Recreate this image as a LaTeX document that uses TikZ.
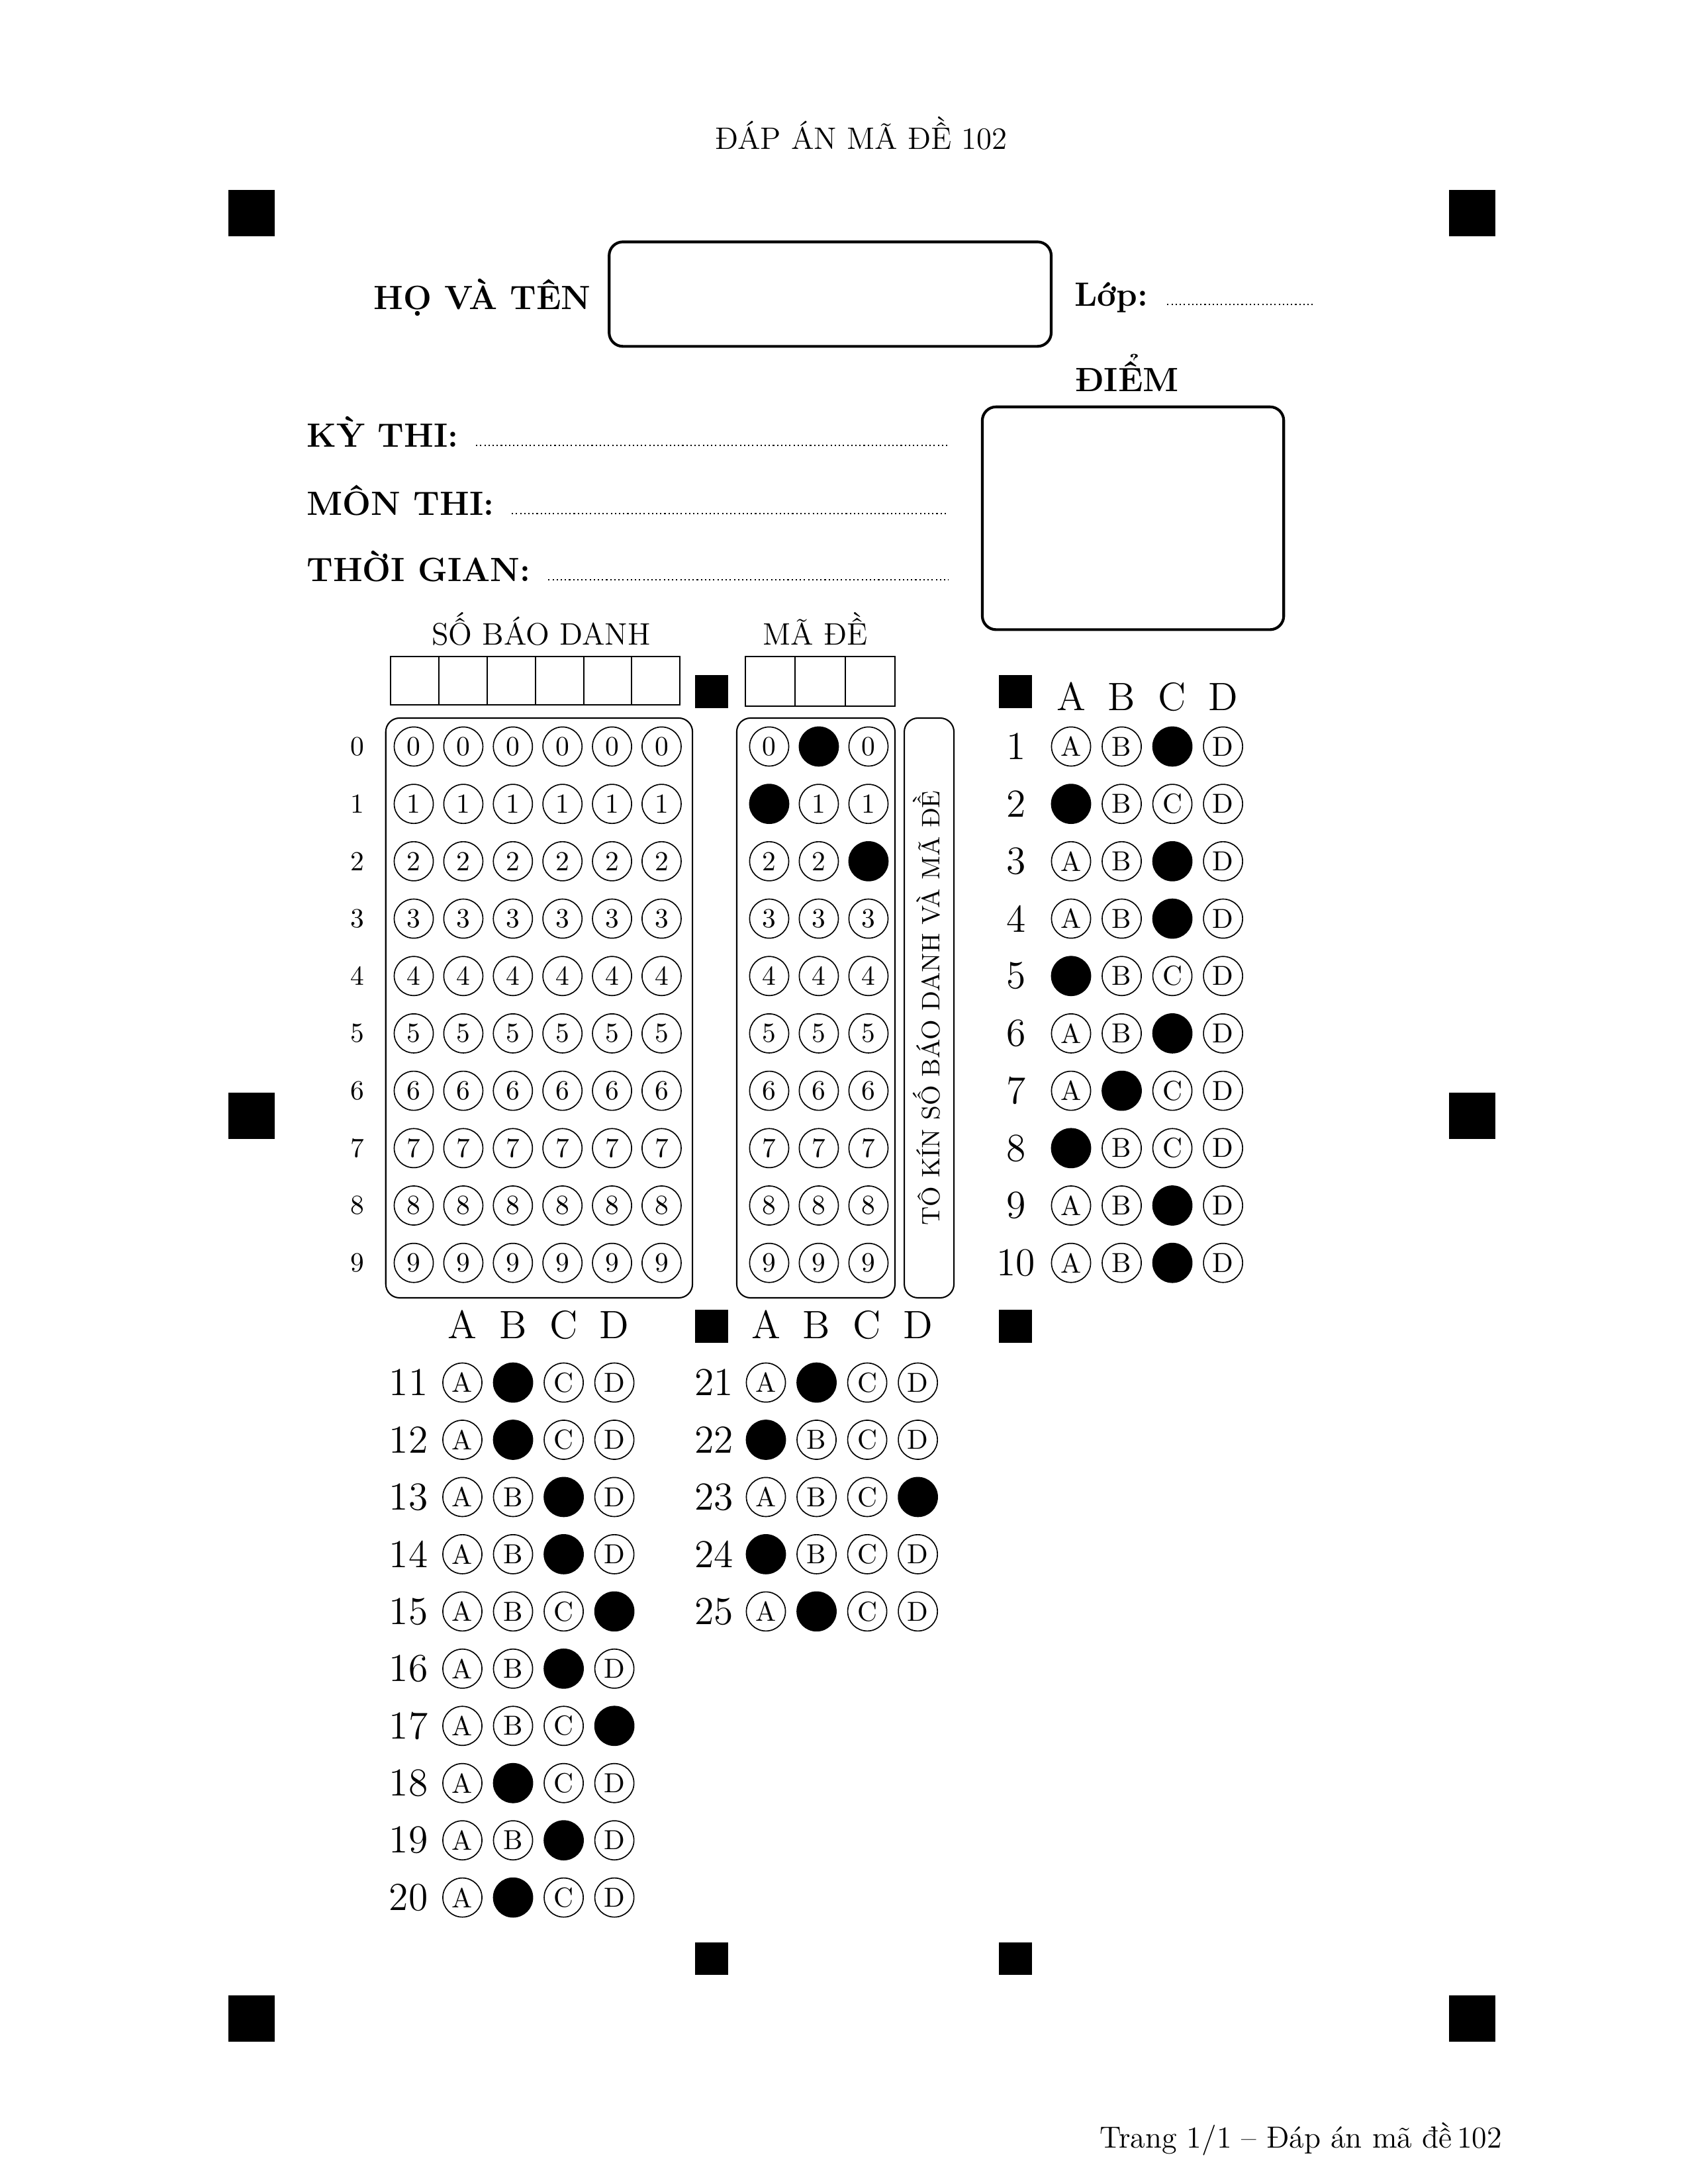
\documentclass[tikz,border=0pt]{standalone}
\usepackage{fontspec}
\usetikzlibrary{calc}
\usetikzlibrary{math}

\begin{document}
\begin{tikzpicture}
    \tikzmath {
        \pageW = 21.59;
        \pageH = 27.94;
        \rowY = -9.550;
        \rowYb = -17.687;
        \bubDX = 0.634;
        \bubDY = 0.734;
        \ansDX = 0.648;
        \ansDY = 0.732;
    }
    
    \tikzstyle{sq}=[fill=black, minimum size=0.6cm, inner sep=0pt]
    \tikzstyle{ssq}=[fill=black, minimum size=0.42cm, inner sep=0pt]
    \tikzstyle{bb}=[shape=circle, draw, line width=0.4pt, minimum size=0.5cm, inner sep=0pt]
    \tikzstyle{cell}=[draw, line width=0.5pt, minimum size=0.6165cm, inner sep=0pt]
    \tikzstyle{lb}=[inner sep=0pt, font=\fontsize{12.25}{14.5}\selectfont\bfseries]
    \tikzstyle{hd}=[inner sep=0pt, font=\Large]
    \tikzstyle{txt}=[inner sep=0pt, font=\fontsize{11.3}{13.5}\selectfont]
    
    \useasboundingbox (0,0) rectangle (\pageW,-\pageH);
    
    % corner marks
    \node[sq] (m_tl) at (3.217,-2.726) {};
    \node[sq] (m_tr) at (18.830,-2.726) {};
    \node[sq] (m_ml) at (3.217,-14.275) {};
    \node[sq] (m_mr) at (18.830,-14.275) {};
    \node[sq] (m_bl) at (3.217,-25.823) {};
    \node[sq] (m_br) at (18.830,-25.823) {};
    
    \node[ssq] (s_1l) at (9.102,-8.848) {};
    \node[ssq] (s_1r) at (12.988,-8.848) {};
    \node[ssq] (s_2l) at (9.102,-16.967) {};
    \node[ssq] (s_2r) at (12.988,-16.967) {};
    \node[ssq] (s_3l) at (9.102,-25.057) {};
    \node[ssq] (s_3r) at (12.988,-25.057) {};
    
    \node[txt, anchor=base] (title) at (11.017,-1.913) {ĐÁP ÁN MÃ ĐỀ 102};
    
    % name and class
    \node[lb, anchor=base west] (name_lb) at (4.771,-3.962) {HỌ VÀ TÊN};
    \coordinate (name_bl) at (7.791,-4.431);
    \coordinate (name_tr) at (13.445,-3.094);
    \draw[line width=1pt, rounded corners=5pt] (name_bl) rectangle (name_tr);
    
    \node[lb, anchor=base west] (lop_lb) at (13.739,-3.918) {Lớp:};
    \coordinate (lop_d1) at ($(lop_lb.base east) + (0.24,0.02)$);
    \coordinate (lop_end) at (16.826,0);
    \path let \p1=(lop_end),\p2=(lop_d1) in coordinate (lop_d2) at (\x1,\y2);
    \draw[densely dotted, line width=0.5pt] (lop_d1) -- (lop_d2);
    
    % score
    \node[lb, anchor=base] (diem_lb) at (14.414,-5.004) {ĐIỂM};
    \coordinate (diem_bl) at (12.564,-8.055);
    \coordinate (diem_tr) at (16.419,-5.205);
    \draw[line width=1pt, rounded corners=5pt] (diem_bl) rectangle (diem_tr);
    
    % exam info
    \coordinate (dots_end) at (12.133,0);
    \node[lb, anchor=base west] (ky_lb) at (3.917,-5.720) {KỲ THI:};
    \node[lb, anchor=base west] (mon_lb) at (3.917,-6.587) {MÔN THI:};
    \node[lb, anchor=base west] (tg_lb) at (3.917,-7.434) {THỜI GIAN:};
    
    \coordinate (ky_d1) at ($(ky_lb.base east) + (0.22,0.02)$);
    \path let \p1=(dots_end),\p2=(ky_d1) in coordinate (ky_d2) at (\x1,\y2);
    \draw[densely dotted, line width=0.5pt] (ky_d1) -- (ky_d2);
    
    \coordinate (mon_d1) at ($(mon_lb.base east) + (0.22,0.02)$);
    \path let \p1=(dots_end),\p2=(mon_d1) in coordinate (mon_d2) at (\x1,\y2);
    \draw[densely dotted, line width=0.5pt] (mon_d1) -- (mon_d2);
    
    \coordinate (tg_d1) at ($(tg_lb.base east) + (0.22,0.02)$);
    \path let \p1=(dots_end),\p2=(tg_d1) in coordinate (tg_d2) at (\x1,\y2);
    \draw[densely dotted, line width=0.5pt] (tg_d1) -- (tg_d2);
    
    % so bao danh / ma de
    \node[txt, anchor=base] (sbd_hd) at (6.921,-8.247) {SỐ BÁO DANH};
    \node[txt, anchor=base] (md_hd) at (10.430,-8.247) {MÃ ĐỀ};
    
    \foreach \j in {0,...,5}
        \node[cell] (sbd_c\j) at (5.306+0.6165*\j,-8.707) {};
    \foreach \j in {0,1,2}
        \node[cell, minimum size=0.638cm] (md_c\j) at (9.852+0.638*\j,-8.716) {};
    
    \coordinate (sbd_bl) at (4.934,-16.603);
    \coordinate (sbd_tr) at (8.857,-9.186);
    \draw[line width=0.5pt, rounded corners=5pt] (sbd_bl) rectangle (sbd_tr);
    
    \coordinate (md_bl) at (9.423,-16.603);
    \coordinate (md_tr) at (11.447,-9.186);
    \draw[line width=0.5pt, rounded corners=5pt] (md_bl) rectangle (md_tr);
    
    \coordinate (vt_bl) at (11.566,-16.603);
    \coordinate (vt_tr) at (12.201,-9.186);
    \draw[line width=0.5pt, rounded corners=5pt] (vt_bl) rectangle (vt_tr);
    \node[rotate=90, inner sep=0pt, font=\fontsize{9.2}{11}\selectfont] (vt) at (11.85,-12.895) {TÔ KÍN SỐ BÁO DANH VÀ MÃ ĐỀ};
    
    \foreach \i in {0,...,9} {
        \node[inner sep=0pt] (sbd_r\i) at (4.572,\rowY-\bubDY*\i) {\i};
        \foreach \j in {0,...,5}
            \node[bb] (sbd_\j_\i) at (5.292+\bubDX*\j,\rowY-\bubDY*\i) {\i};
    }
    
    \foreach \j/\dg in {0/1,1/0,2/2} {
        \foreach \i in {0,...,9} {
            \ifnum\i=\dg\relax \def\fc{black}\def\tx{}\else\def\fc{white}\def\tx{\i}\fi
            \node[bb, fill=\fc] (md_\j_\i) at (9.838+0.635*\j,\rowY-\bubDY*\i) {\tx};
        }
    }
    
    % answers 1-10
    \foreach \ch [count=\j from 0] in {A,B,C,D}
        \node[hd, anchor=base] (h1_\ch) at (13.699+\ansDX*\j,-9.093) {\ch};
    \foreach \q/\ans in {1/2,2/0,3/2,4/2,5/0,6/2,7/1,8/0,9/2,10/2} {
        \node[hd] (n\q) at (12.996,\rowY-\bubDY*\q+\bubDY) {\q};
        \foreach \ch [count=\j from 0] in {A,B,C,D} {
            \ifnum\j=\ans\relax \def\fc{black}\def\tx{}\else\def\fc{white}\def\tx{\ch}\fi
            \node[bb, fill=\fc] (q\q_\ch) at (13.699+\ansDX*\j,\rowY-\bubDY*\q+\bubDY) {\tx};
        }
    }
    
    % answers 11-20
    \foreach \ch [count=\j from 0] in {A,B,C,D}
        \node[hd, anchor=base] (h2_\ch) at (5.914+\ansDX*\j,-17.126) {\ch};
    \foreach \q/\ans in {11/1,12/1,13/2,14/2,15/3,16/2,17/3,18/1,19/2,20/1} {
        \node[hd] (n\q) at (5.224,\rowYb-\ansDY*\q+\ansDY*11) {\q};
        \foreach \ch [count=\j from 0] in {A,B,C,D} {
            \ifnum\j=\ans\relax \def\fc{black}\def\tx{}\else\def\fc{white}\def\tx{\ch}\fi
            \node[bb, fill=\fc] (q\q_\ch) at (5.914+\ansDX*\j,\rowYb-\ansDY*\q+\ansDY*11) {\tx};
        }
    }
    
    % answers 21-25
    \foreach \ch [count=\j from 0] in {A,B,C,D}
        \node[hd, anchor=base] (h3_\ch) at (9.796+\ansDX*\j,-17.126) {\ch};
    \foreach \q/\ans in {21/1,22/0,23/3,24/0,25/1} {
        \node[hd] (n\q) at (9.131,\rowYb-\ansDY*\q+\ansDY*21) {\q};
        \foreach \ch [count=\j from 0] in {A,B,C,D} {
            \ifnum\j=\ans\relax \def\fc{black}\def\tx{}\else\def\fc{white}\def\tx{\ch}\fi
            \node[bb, fill=\fc] (q\q_\ch) at (9.796+\ansDX*\j,\rowYb-\ansDY*\q+\ansDY*21) {\tx};
        }
    }
    
    \node[txt, anchor=base east, font=\fontsize{11.1}{13}\selectfont] (footer) at (19.216,-27.474) {Trang 1/1 -- Đáp án mã đề\,102};
\end{tikzpicture}
\end{document}
